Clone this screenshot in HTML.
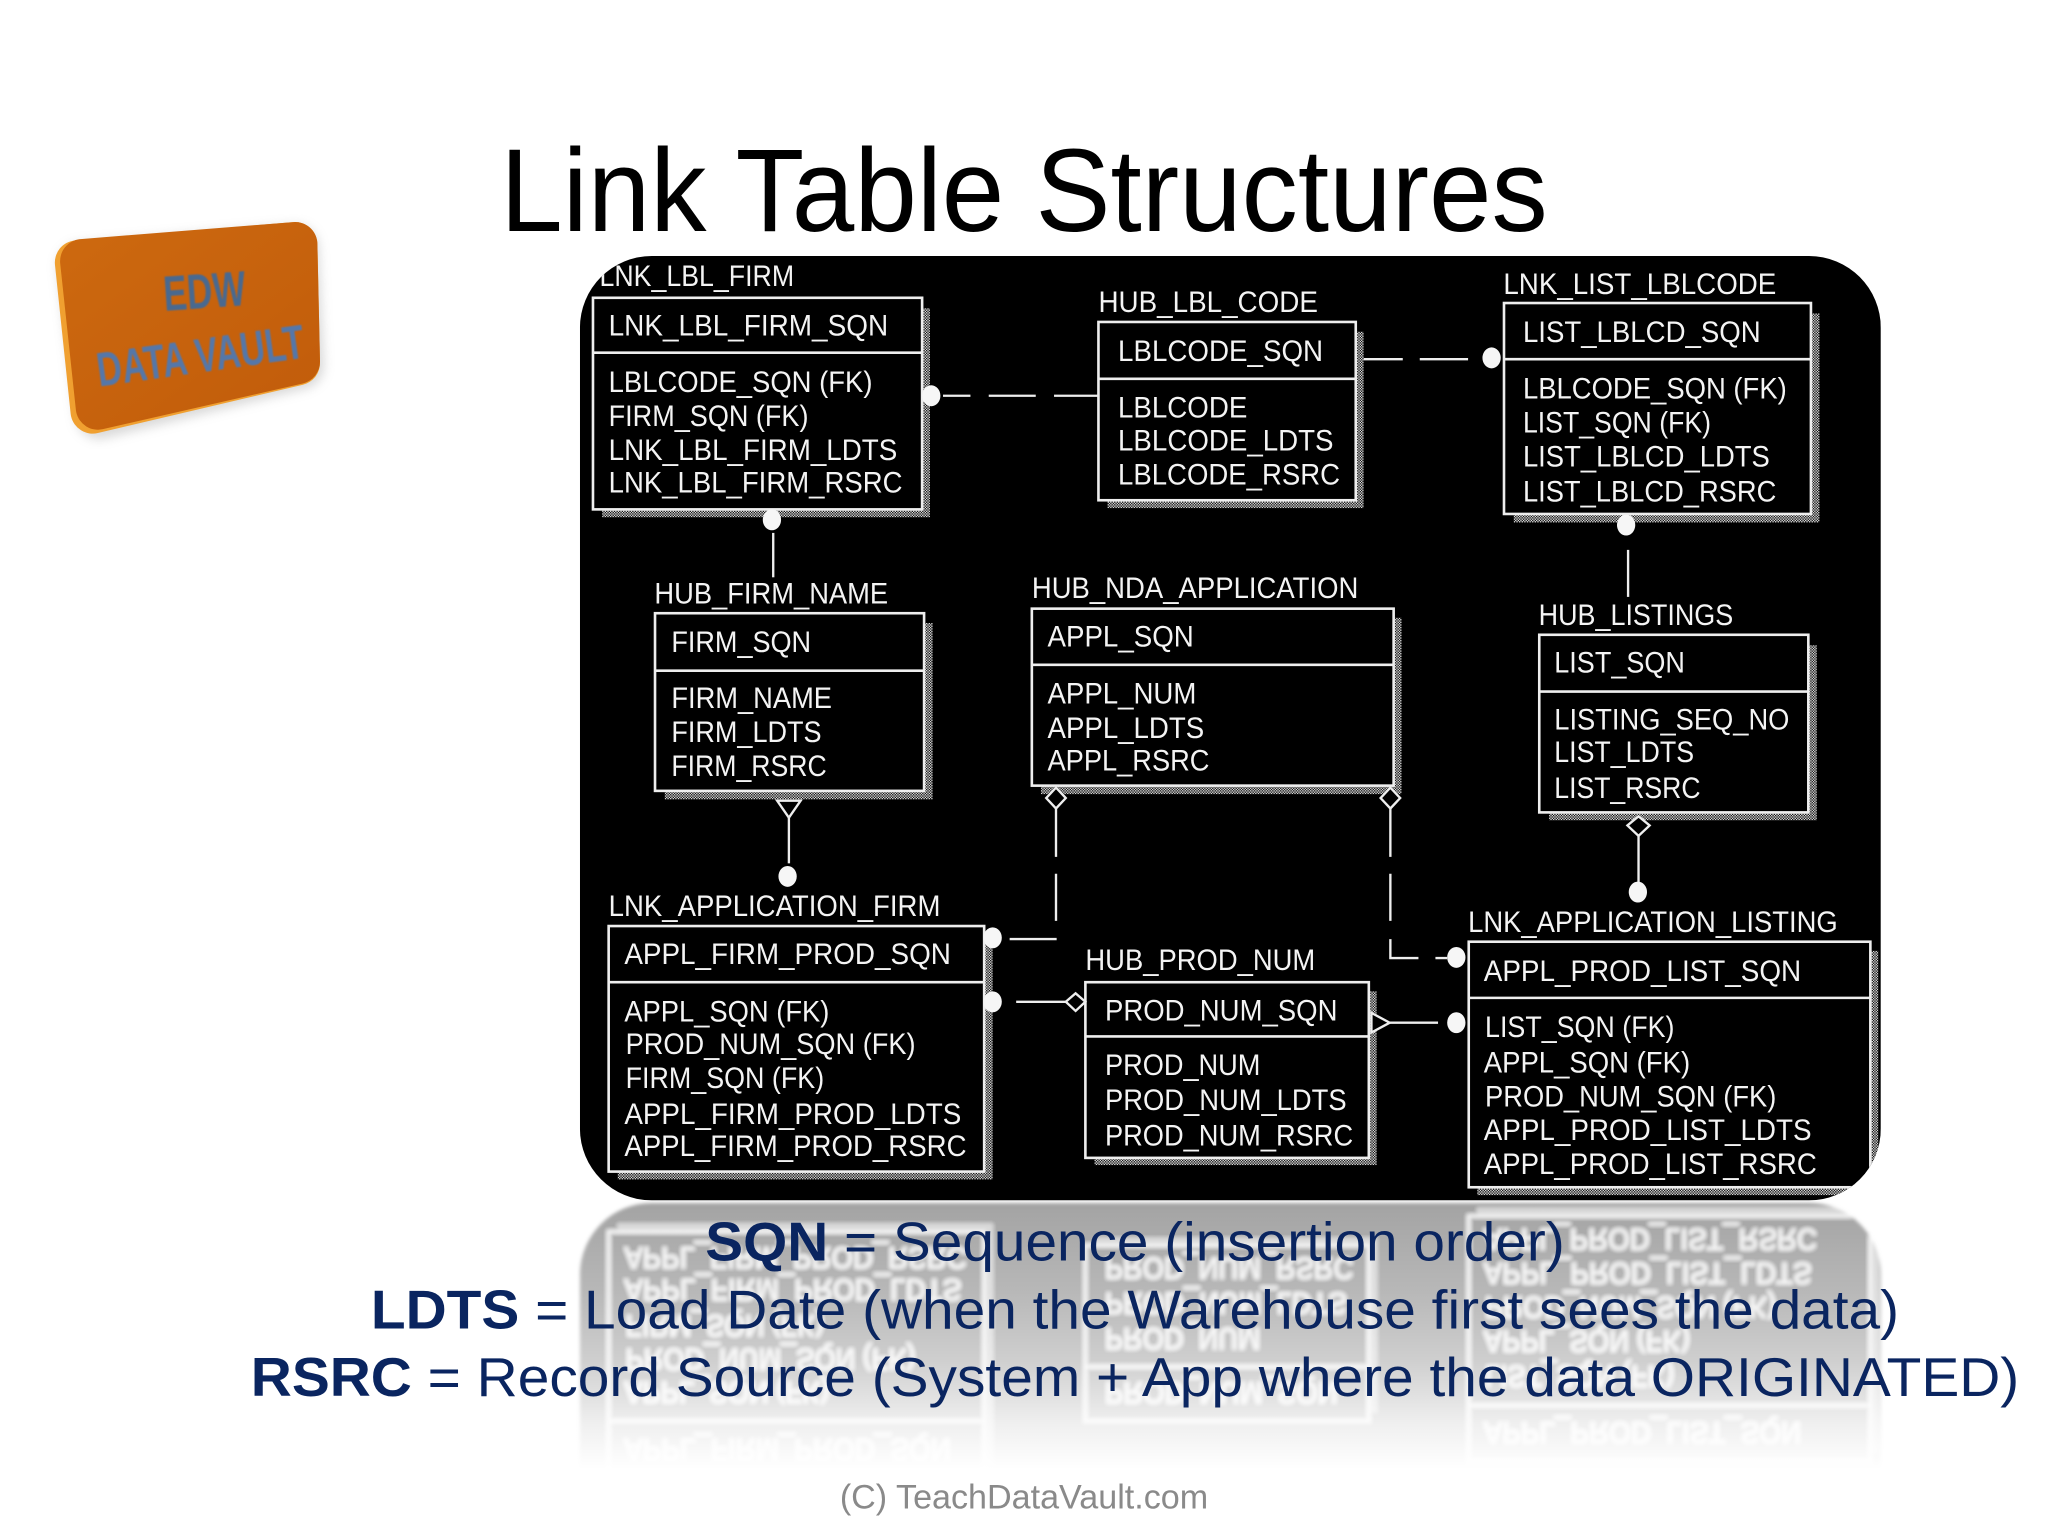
<!DOCTYPE html>
<html><head><meta charset="utf-8"><title>Link Table Structures</title>
<style>
html,body{margin:0;padding:0;background:#fff;width:2048px;height:1536px;overflow:hidden}
svg{display:block}
text{font-family:"Liberation Sans",sans-serif}
.t{font-size:22.4px;fill:#f4f4f4}
.box{fill:#000;stroke:#eee;stroke-width:2}
.div{stroke:#eee;stroke-width:2}
.c{stroke:#eee;stroke-width:1.8;fill:none}
.d{fill:#f6f6f6}
.o{fill:#000;stroke:#eee;stroke-width:1.8}
.n{fill:#0a2560;font-size:42px}
</style></head><body>
<svg width="2048" height="1536" viewBox="0 0 1568 1176" xmlns="http://www.w3.org/2000/svg">
<defs>
<pattern id="dm" width="2" height="2" patternUnits="userSpaceOnUse"><rect width="2" height="2" fill="#111"/><rect width="1" height="1" fill="#ddd"/><rect x="1" y="1" width="1" height="1" fill="#ddd"/></pattern>
<clipPath id="cp"><rect x="444" y="196" width="996" height="723" rx="55" ry="55"/></clipPath>
<linearGradient id="fade" x1="0" y1="921" x2="0" y2="1125" gradientUnits="userSpaceOnUse"><stop offset="0" stop-color="#fff" stop-opacity=".64"/><stop offset=".33" stop-color="#fff" stop-opacity=".72"/><stop offset=".59" stop-color="#fff" stop-opacity=".81"/><stop offset=".83" stop-color="#fff" stop-opacity=".94"/><stop offset="1" stop-color="#fff" stop-opacity="1"/></linearGradient>
<linearGradient id="org" x1="0" y1="0" x2="1" y2="1"><stop offset="0" stop-color="#cc680f"/><stop offset="1" stop-color="#c25d0b"/></linearGradient>
<filter id="bl" x="-20%" y="-20%" width="140%" height="140%"><feGaussianBlur stdDeviation="4"/></filter>
<filter id="sb" x="-5%" y="-5%" width="110%" height="110%"><feGaussianBlur stdDeviation=".7"/></filter>
<filter id="rb" x="-2%" y="-2%" width="104%" height="104%"><feGaussianBlur stdDeviation="1.5"/></filter>
</defs>
<rect width="1568" height="1176" fill="#fff"/>

<!-- Badge -->
<path d="M62 204 L226 190 L230 280 L76 318Z" fill="#aaa" opacity=".45" stroke="#aaa" stroke-width="36" stroke-linejoin="round" filter="url(#bl)"/>
<path d="M59 201 L226 187 L228 278 L71 315Z" fill="#f0a030" stroke="#f0a030" stroke-width="34" stroke-linejoin="round"/>
<path d="M63 200 L226 187 L228 277 L75 312Z" fill="url(#org)" stroke="url(#org)" stroke-width="34" stroke-linejoin="round"/>
<g filter="url(#sb)">
<text transform="translate(126,238) rotate(-4)" font-size="38" font-weight="bold" fill="#49698f" textLength="63" lengthAdjust="spacingAndGlyphs">EDW</text>
<text transform="translate(76,296) rotate(-8)" font-size="37" font-weight="bold" fill="#5577a8" textLength="160" lengthAdjust="spacingAndGlyphs">DATA VAULT</text>
</g>

<!-- Title -->
<text x="383" y="177" font-size="90" fill="#000" textLength="802" lengthAdjust="spacingAndGlyphs">Link Table Structures</text>

<!-- Reflection -->
<g filter="url(#rb)">
<g transform="matrix(1 0 0 -1 0 1840)">
<g clip-path="url(#cp)">
<rect x="444" y="700" width="996" height="219" fill="#000"/>
<rect x="473" y="716" width="287" height="187" fill="url(#dm)"/>
<rect x="466" y="709" width="287.5" height="188" class="box"/><line x1="466" x2="753.5" y1="752" y2="752" class="div"/>
<text class="t" x="478" y="738" textLength="250" lengthAdjust="spacingAndGlyphs">APPL_FIRM_PROD_SQN</text>
<text class="t" x="478" y="782" textLength="157" lengthAdjust="spacingAndGlyphs">APPL_SQN (FK)</text>
<text class="t" x="479" y="807" textLength="222" lengthAdjust="spacingAndGlyphs">PROD_NUM_SQN (FK)</text>
<text class="t" x="479" y="833" textLength="152" lengthAdjust="spacingAndGlyphs">FIRM_SQN (FK)</text>
<text class="t" x="478" y="860.5" textLength="258" lengthAdjust="spacingAndGlyphs">APPL_FIRM_PROD_LDTS</text>
<text class="t" x="478" y="885" textLength="262" lengthAdjust="spacingAndGlyphs">APPL_FIRM_PROD_RSRC</text>
<rect x="838" y="759" width="216" height="133" fill="url(#dm)"/>
<rect x="831" y="752" width="217" height="134.5" class="box"/><line x1="831" x2="1048" y1="793.5" y2="793.5" class="div"/>
<text class="t" x="846" y="781.5" textLength="178" lengthAdjust="spacingAndGlyphs">PROD_NUM_SQN</text>
<text class="t" x="846" y="823" textLength="119" lengthAdjust="spacingAndGlyphs">PROD_NUM</text>
<text class="t" x="846" y="850" textLength="185" lengthAdjust="spacingAndGlyphs">PROD_NUM_LDTS</text>
<text class="t" x="846" y="877" textLength="190" lengthAdjust="spacingAndGlyphs">PROD_NUM_RSRC</text>
<rect x="1131" y="728" width="307" height="187" fill="url(#dm)"/>
<rect x="1124.5" y="721" width="307.5" height="188" class="box"/><line x1="1124.5" x2="1432" y1="764" y2="764" class="div"/>
<text class="t" x="1136" y="751" textLength="243" lengthAdjust="spacingAndGlyphs">APPL_PROD_LIST_SQN</text>
<text class="t" x="1137" y="794" textLength="145" lengthAdjust="spacingAndGlyphs">LIST_SQN (FK)</text>
<text class="t" x="1136" y="821" textLength="158" lengthAdjust="spacingAndGlyphs">APPL_SQN (FK)</text>
<text class="t" x="1137" y="847" textLength="223" lengthAdjust="spacingAndGlyphs">PROD_NUM_SQN (FK)</text>
<text class="t" x="1136" y="873" textLength="251" lengthAdjust="spacingAndGlyphs">APPL_PROD_LIST_LDTS</text>
<text class="t" x="1136" y="899" textLength="255" lengthAdjust="spacingAndGlyphs">APPL_PROD_LIST_RSRC</text>
</g>
</g>
</g>
<rect x="430" y="919" width="1024" height="240" fill="url(#fade)"/>

<!-- Diagram -->
<g clip-path="url(#cp)">
<rect x="444" y="196" width="996" height="723" fill="#000"/>

<!-- connectors -->
<path class="c" d="M722 303H743M757 303H793M807 303H841"/>
<path class="c" d="M592 408V442"/>
<path class="c" d="M1044 275H1074M1087 275H1124"/>
<path class="c" d="M1246.500 421V457"/>
<path class="c" d="M604 626V661"/>
<path class="c" d="M808.500 618V656M808.500 669V705"/>
<path class="c" d="M773 719H809"/>
<path class="c" d="M1064.500 618V656M1064.500 669V705M1064.500 719V733.500H1086M1099 733.500H1108"/>
<path class="c" d="M778 767H816"/>
<path class="c" d="M1064 783H1101"/>
<path class="c" d="M1254.500 640V676"/>

<!-- LNK_LBL_FIRM -->
<rect x="461" y="236" width="251" height="160" fill="url(#dm)"/>
<rect x="454" y="228" width="252" height="162" class="box"/><line x1="454" x2="706" y1="270" y2="270" class="div"/>
<text class="t" x="459" y="219" textLength="149" lengthAdjust="spacingAndGlyphs">LNK_LBL_FIRM</text>
<text class="t" x="466" y="257" textLength="214" lengthAdjust="spacingAndGlyphs">LNK_LBL_FIRM_SQN</text>
<text class="t" x="466" y="300" textLength="202" lengthAdjust="spacingAndGlyphs">LBLCODE_SQN (FK)</text>
<text class="t" x="466" y="326" textLength="153" lengthAdjust="spacingAndGlyphs">FIRM_SQN (FK)</text>
<text class="t" x="466" y="352" textLength="221" lengthAdjust="spacingAndGlyphs">LNK_LBL_FIRM_LDTS</text>
<text class="t" x="466" y="377" textLength="225" lengthAdjust="spacingAndGlyphs">LNK_LBL_FIRM_RSRC</text>

<!-- HUB_LBL_CODE -->
<rect x="848" y="254" width="196" height="135" fill="url(#dm)"/>
<rect x="841" y="246.500" width="197" height="136.500" class="box"/><line x1="841" x2="1038" y1="290" y2="290" class="div"/>
<text class="t" x="841" y="239" textLength="168" lengthAdjust="spacingAndGlyphs">HUB_LBL_CODE</text>
<text class="t" x="856" y="276.500" textLength="157" lengthAdjust="spacingAndGlyphs">LBLCODE_SQN</text>
<text class="t" x="856" y="319.500" textLength="99" lengthAdjust="spacingAndGlyphs">LBLCODE</text>
<text class="t" x="856" y="345" textLength="165" lengthAdjust="spacingAndGlyphs">LBLCODE_LDTS</text>
<text class="t" x="856" y="371" textLength="170" lengthAdjust="spacingAndGlyphs">LBLCODE_RSRC</text>

<!-- LNK_LIST_LBLCODE -->
<rect x="1159" y="240" width="234" height="160" fill="url(#dm)"/>
<rect x="1151.500" y="232" width="235" height="161.500" class="box"/><line x1="1151.500" x2="1386.500" y1="275" y2="275" class="div"/>
<text class="t" x="1151" y="225" textLength="209" lengthAdjust="spacingAndGlyphs">LNK_LIST_LBLCODE</text>
<text class="t" x="1166" y="262" textLength="182" lengthAdjust="spacingAndGlyphs">LIST_LBLCD_SQN</text>
<text class="t" x="1166" y="305" textLength="202" lengthAdjust="spacingAndGlyphs">LBLCODE_SQN (FK)</text>
<text class="t" x="1166" y="331" textLength="144" lengthAdjust="spacingAndGlyphs">LIST_SQN (FK)</text>
<text class="t" x="1166" y="357" textLength="189" lengthAdjust="spacingAndGlyphs">LIST_LBLCD_LDTS</text>
<text class="t" x="1166" y="384" textLength="194" lengthAdjust="spacingAndGlyphs">LIST_LBLCD_RSRC</text>

<!-- HUB_FIRM_NAME -->
<rect x="509" y="477" width="205" height="135" fill="url(#dm)"/>
<rect x="501.500" y="469.500" width="206" height="136" class="box"/><line x1="501.500" x2="707.500" y1="513.500" y2="513.500" class="div"/>
<text class="t" x="501" y="462" textLength="179" lengthAdjust="spacingAndGlyphs">HUB_FIRM_NAME</text>
<text class="t" x="514" y="499" textLength="107" lengthAdjust="spacingAndGlyphs">FIRM_SQN</text>
<text class="t" x="514" y="542" textLength="123" lengthAdjust="spacingAndGlyphs">FIRM_NAME</text>
<text class="t" x="514" y="568" textLength="115" lengthAdjust="spacingAndGlyphs">FIRM_LDTS</text>
<text class="t" x="514" y="594" textLength="119" lengthAdjust="spacingAndGlyphs">FIRM_RSRC</text>
<path class="o" d="M595 613H613L604 626Z"/>

<!-- HUB_NDA_APPLICATION -->
<rect x="797" y="473" width="276" height="135" fill="url(#dm)"/>
<rect x="790" y="466" width="277" height="135.500" class="box"/><line x1="790" x2="1067" y1="509" y2="509" class="div"/>
<text class="t" x="790" y="458" textLength="250" lengthAdjust="spacingAndGlyphs">HUB_NDA_APPLICATION</text>
<text class="t" x="802" y="495" textLength="112" lengthAdjust="spacingAndGlyphs">APPL_SQN</text>
<text class="t" x="802" y="538.500" textLength="114" lengthAdjust="spacingAndGlyphs">APPL_NUM</text>
<text class="t" x="802" y="565" textLength="120" lengthAdjust="spacingAndGlyphs">APPL_LDTS</text>
<text class="t" x="802" y="590" textLength="124" lengthAdjust="spacingAndGlyphs">APPL_RSRC</text>
<path class="o" d="M801 611L808.500 603L816 611L808.500 619Z"/>
<path class="o" d="M1057 611L1064.500 603L1072 611L1064.500 619Z"/>

<!-- HUB_LISTINGS -->
<rect x="1186" y="494" width="205" height="134" fill="url(#dm)"/>
<rect x="1178.500" y="486" width="206" height="136" class="box"/><line x1="1178.500" x2="1384.500" y1="529.500" y2="529.500" class="div"/>
<text class="t" x="1178" y="478.500" textLength="149" lengthAdjust="spacingAndGlyphs">HUB_LISTINGS</text>
<text class="t" x="1190" y="515" textLength="100" lengthAdjust="spacingAndGlyphs">LIST_SQN</text>
<text class="t" x="1190" y="558.500" textLength="180" lengthAdjust="spacingAndGlyphs">LISTING_SEQ_NO</text>
<text class="t" x="1190" y="583.500" textLength="107" lengthAdjust="spacingAndGlyphs">LIST_LDTS</text>
<text class="t" x="1190" y="611" textLength="112" lengthAdjust="spacingAndGlyphs">LIST_RSRC</text>
<path class="o" d="M1246 632L1254.500 625L1263 632L1254.500 640Z"/>

<!-- LNK_APPLICATION_FIRM -->
<rect x="473" y="716" width="287" height="187" fill="url(#dm)"/>
<rect x="466" y="709" width="287.500" height="188" class="box"/><line x1="466" x2="753.500" y1="752" y2="752" class="div"/>
<text class="t" x="466" y="701.500" textLength="254" lengthAdjust="spacingAndGlyphs">LNK_APPLICATION_FIRM</text>
<text class="t" x="478" y="738" textLength="250" lengthAdjust="spacingAndGlyphs">APPL_FIRM_PROD_SQN</text>
<text class="t" x="478" y="782" textLength="157" lengthAdjust="spacingAndGlyphs">APPL_SQN (FK)</text>
<text class="t" x="479" y="807" textLength="222" lengthAdjust="spacingAndGlyphs">PROD_NUM_SQN (FK)</text>
<text class="t" x="479" y="833" textLength="152" lengthAdjust="spacingAndGlyphs">FIRM_SQN (FK)</text>
<text class="t" x="478" y="860.500" textLength="258" lengthAdjust="spacingAndGlyphs">APPL_FIRM_PROD_LDTS</text>
<text class="t" x="478" y="885" textLength="262" lengthAdjust="spacingAndGlyphs">APPL_FIRM_PROD_RSRC</text>

<!-- HUB_PROD_NUM -->
<rect x="838" y="759" width="216" height="133" fill="url(#dm)"/>
<rect x="831" y="752" width="217" height="134.500" class="box"/><line x1="831" x2="1048" y1="793.500" y2="793.500" class="div"/>
<text class="t" x="831" y="742.500" textLength="176" lengthAdjust="spacingAndGlyphs">HUB_PROD_NUM</text>
<text class="t" x="846" y="781.500" textLength="178" lengthAdjust="spacingAndGlyphs">PROD_NUM_SQN</text>
<text class="t" x="846" y="823" textLength="119" lengthAdjust="spacingAndGlyphs">PROD_NUM</text>
<text class="t" x="846" y="850" textLength="185" lengthAdjust="spacingAndGlyphs">PROD_NUM_LDTS</text>
<text class="t" x="846" y="877" textLength="190" lengthAdjust="spacingAndGlyphs">PROD_NUM_RSRC</text>
<path class="o" d="M816 767L823.500 760.500L831 767L823.500 774Z"/>
<path class="o" d="M1050 775.500L1064 783L1050 790.500Z"/>

<!-- LNK_APPLICATION_LISTING -->
<rect x="1131" y="728" width="307" height="187" fill="url(#dm)"/>
<rect x="1124.500" y="721" width="307.500" height="188" class="box"/><line x1="1124.500" x2="1432" y1="764" y2="764" class="div"/>
<text class="t" x="1124" y="713.500" textLength="283" lengthAdjust="spacingAndGlyphs">LNK_APPLICATION_LISTING</text>
<text class="t" x="1136" y="751" textLength="243" lengthAdjust="spacingAndGlyphs">APPL_PROD_LIST_SQN</text>
<text class="t" x="1137" y="794" textLength="145" lengthAdjust="spacingAndGlyphs">LIST_SQN (FK)</text>
<text class="t" x="1136" y="821" textLength="158" lengthAdjust="spacingAndGlyphs">APPL_SQN (FK)</text>
<text class="t" x="1137" y="847" textLength="223" lengthAdjust="spacingAndGlyphs">PROD_NUM_SQN (FK)</text>
<text class="t" x="1136" y="873" textLength="251" lengthAdjust="spacingAndGlyphs">APPL_PROD_LIST_LDTS</text>
<text class="t" x="1136" y="899" textLength="255" lengthAdjust="spacingAndGlyphs">APPL_PROD_LIST_RSRC</text>

<!-- relationship dots drawn on top of tables and shadows -->
<ellipse class="d" cx="713" cy="303" rx="7" ry="8"/>
<ellipse class="d" cx="591" cy="398" rx="7" ry="8"/>
<ellipse class="d" cx="1142" cy="274" rx="7" ry="8"/>
<ellipse class="d" cx="1245" cy="402" rx="7" ry="8"/>
<ellipse class="d" cx="603" cy="671" rx="7" ry="8"/>
<ellipse class="d" cx="760" cy="718" rx="7" ry="8"/>
<ellipse class="d" cx="760" cy="767" rx="7" ry="8"/>
<ellipse class="d" cx="1115" cy="733" rx="7" ry="8"/>
<ellipse class="d" cx="1115" cy="783" rx="7" ry="8"/>
<ellipse class="d" cx="1254" cy="683" rx="7" ry="8"/>
</g>

<!-- Legend -->
<text class="n" x="540" y="965" textLength="658" lengthAdjust="spacingAndGlyphs"><tspan font-weight="bold">SQN</tspan> = Sequence (insertion order)</text>
<text class="n" x="284" y="1017" textLength="1170" lengthAdjust="spacingAndGlyphs"><tspan font-weight="bold">LDTS</tspan> = Load Date (when the Warehouse first sees the data)</text>
<text class="n" x="192" y="1069" textLength="1354" lengthAdjust="spacingAndGlyphs"><tspan font-weight="bold">RSRC</tspan> = Record Source (System + App where the data ORIGINATED)</text>
<text x="643" y="1155" font-size="26" fill="#8a8a8a" textLength="282" lengthAdjust="spacingAndGlyphs">(C) TeachDataVault.com</text>
</svg>
</body></html>
